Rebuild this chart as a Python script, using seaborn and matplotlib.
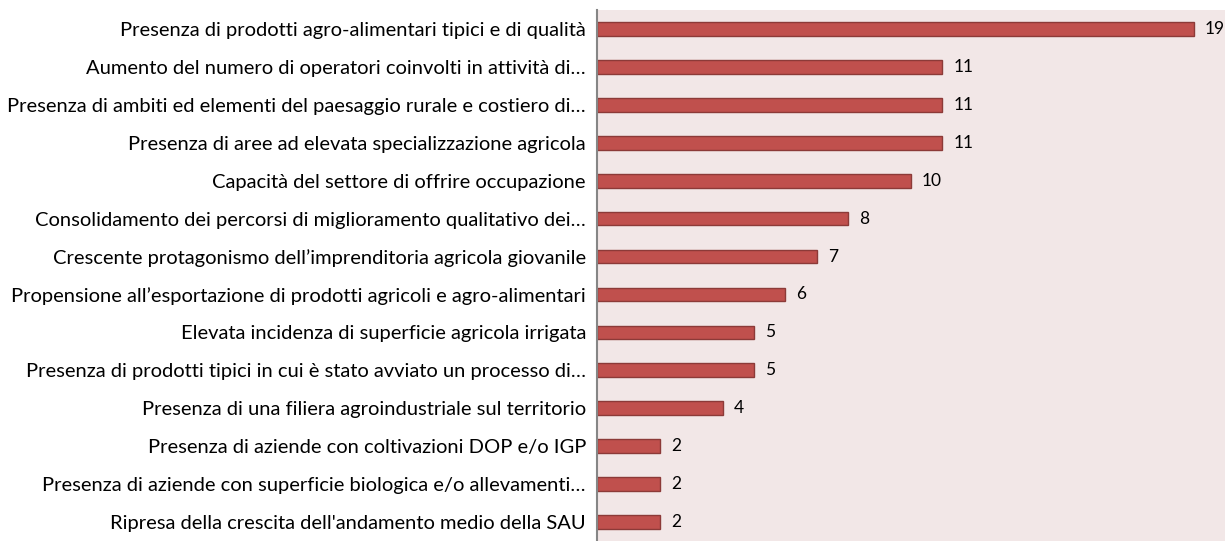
import matplotlib
matplotlib.use("Agg")
import matplotlib.pyplot as plt
import pandas as pd
import seaborn as sns

labels = [
    "Presenza di prodotti agro-alimentari tipici e di qualità",
    "Aumento del numero di operatori coinvolti in attività di…",
    "Presenza di ambiti ed elementi del paesaggio rurale e costiero di…",
    "Presenza di aree ad elevata specializzazione agricola",
    "Capacità del settore di offrire occupazione",
    "Consolidamento dei percorsi di miglioramento qualitativo dei…",
    "Crescente protagonismo dell’imprenditoria agricola giovanile",
    "Propensione all’esportazione di prodotti agricoli e agro-alimentari",
    "Elevata incidenza di superficie agricola irrigata",
    "Presenza di prodotti tipici in cui è stato avviato un processo di…",
    "Presenza di una filiera agroindustriale sul territorio",
    "Presenza di aziende con coltivazioni DOP e/o IGP",
    "Presenza di aziende con superficie biologica e/o allevamenti…",
    "Ripresa della crescita dell'andamento medio della SAU",
]
values = [19, 11, 11, 11, 10, 8, 7, 6, 5, 5, 4, 2, 2, 2]

df = pd.DataFrame({"label": labels, "value": values})

sns.set_theme(style="white")
plt.rcParams["font.family"] = ["Lato", "DejaVu Sans"]

fig = plt.figure(figsize=(12.25, 5.41), dpi=100)
ax = fig.add_axes([597 / 1225, 0, 628 / 1225, 531 / 541])

sns.barplot(data=df, x="value", y="label", orient="h", color="#c0504d",
            saturation=1, width=0.36, edgecolor="#8c3a38", linewidth=1, ax=ax)

ax.set_facecolor("#f2e7e7")
ax.set_xlim(0, 20)
ax.set_xticks([])
ax.set_xlabel("")
ax.set_ylabel("")
for s in ["top", "right", "bottom"]:
    ax.spines[s].set_visible(False)
ax.spines["left"].set_color("#868686")
ax.spines["left"].set_linewidth(1.5)
ax.tick_params(axis="y", length=0, pad=8, labelsize=14.5, labelcolor="black")

for i, v in enumerate(values):
    ax.annotate(str(v), (v, i), xytext=(8, 0), textcoords="offset points",
                va="center", ha="left", fontsize=12.5, color="black")

fig.savefig("out.png", dpi=100)
